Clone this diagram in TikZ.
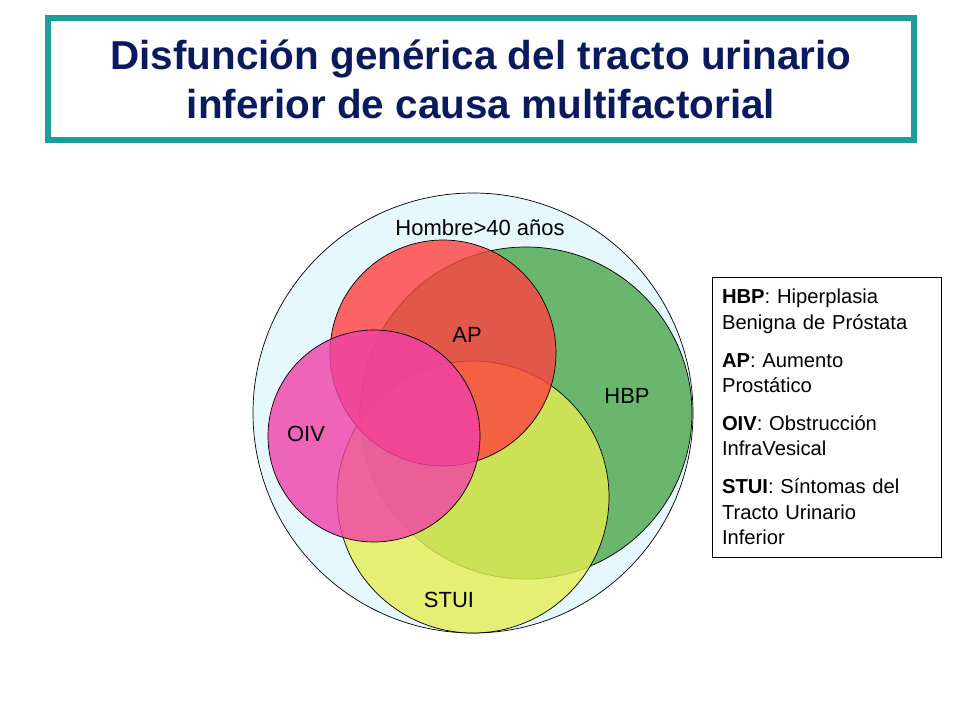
\documentclass[tikz,border=0pt]{standalone}
\usepackage{fontspec}
\setmainfont{Liberation Sans}
\usetikzlibrary{positioning}
\definecolor{navy}{HTML}{0B1A5E}
\definecolor{teal}{HTML}{1E9E9A}
\tikzset{set/.style = {draw=black, thin, fill opacity=0.8}}
\tikzset{lbl/.style = {font=\fontsize{12.5}{15}\selectfont}}
\tikzset{legend/.style = {draw=black, thin, align=left, text width=4.2cm, inner sep=1.5mm,
  font=\fontsize{11.5}{14.5}\selectfont}}
\begin{document}
\begin{tikzpicture}[x=0.02cm, y=-0.02cm]
\useasboundingbox (0,0) rectangle (960,720);
\node (title) [draw=teal, line width=1.2mm, minimum width=866*0.02cm, minimum height=122*0.02cm,
  align=center, text=navy, font=\fontsize{23}{28}\selectfont\bfseries] at (481,79)
  {Disfunción genérica del tracto urinario\\inferior de causa multifactorial};

% sets
\draw [fill=cyan!10!white] (473,413) circle (220);
\draw [set, fill=green!50!black!70] (526,413) circle (166);
\draw [set, fill=yellow!85!green!70!white] (473,497) circle (136);
\draw [set, fill=red!75!white] (443,353) circle (113);
\draw [set, fill=magenta!75!white] (374,436) circle (106);

\node (men) [lbl] at (480,228) {Hombre>40 años};
\node (ap) [lbl] at (467,335) {AP};
\node (hbp) [lbl] at (627,396) {HBP};
\node (oiv) [lbl] at (306,434) {OIV};
\node (stui) [lbl] at (449,600) {STUI};

\node (key) [legend, minimum height=280*0.02cm, minimum width=229*0.02cm] at (827,417) {%
\textbf{HBP}: Hiperplasia\\Benigna de Próstata\\[2.5mm]
\textbf{AP}: Aumento\\Prostático\\[2.5mm]
\textbf{OIV}: Obstrucción\\InfraVesical\\[2.5mm]
\textbf{STUI}: Síntomas del\\Tracto Urinario\\Inferior};
\end{tikzpicture}
\end{document}
